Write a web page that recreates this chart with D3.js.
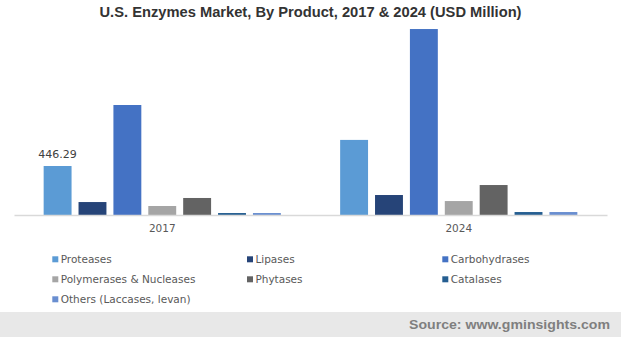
<!DOCTYPE html>
<html>
<head>
<meta charset="utf-8">
<script src="https://cdn.jsdelivr.net/npm/d3@7"></script>
<style>
  html, body { margin: 0; padding: 0; background: #fff; }
  svg { display: block; font-family: "Liberation Sans", Arial, sans-serif; }
</style>
</head>
<body>
<svg id="chart" width="621" height="337"></svg>
<script>
// Years on the category axis
const years = ["2017", "2024"];
// Product segments, in legend order
const products = [
  "Proteases", "Lipases", "Carbohydrases",
  "Polymerases & Nucleases", "Phytases", "Catalases",
  "Others (Laccases, levan)"
];
// Market size by product (USD Million)
const values2017 = [446.29, 118, 1002, 82, 155, 18, 18];
const values2024 = [684, 182, 1694, 127, 273, 27, 27];
// Series colours
const colors = ["#5B9BD5", "#264478", "#4472C4", "#A5A5A5", "#636363", "#255E91", "#698ED0"];
// Only the first bar carries a value label
const labelled = [{ year: "2017", product: "Proteases", value: values2017[0] }];

const svg = d3.select("#chart");
const W = 621, H = 337;
const uiFont = "'DejaVu Sans', Verdana, sans-serif";

const byYear = { "2017": values2017, "2024": values2024 };
const rows = years.flatMap(yr => products.map((p, i) => ({ year: yr, product: p, value: byYear[yr][i] })));

const x0 = d3.scaleBand().domain(years).range([14, 607]).paddingInner(0.2).paddingOuter(0.1);
const x1 = d3.scaleBand().domain(products).range([0, x0.bandwidth()]).paddingInner(0.2).paddingOuter(0);
const y = d3.scaleLinear().domain([0, 1800]).range([215, 17.4]);
const color = d3.scaleOrdinal().domain(products).range(colors);

// Title
svg.append("text")
  .attr("x", W / 2).attr("y", 17.3).attr("text-anchor", "middle")
  .attr("textLength", 422).attr("lengthAdjust", "spacingAndGlyphs")
  .style("font-size", "14px").style("font-weight", "bold").style("fill", "#333333")
  .text("U.S. Enzymes Market, By Product, 2017 & 2024 (USD Million)");

// Bars
svg.append("g").selectAll("rect").data(rows).join("rect")
  .attr("x", d => x0(d.year) + x1(d.product))
  .attr("y", d => y(d.value))
  .attr("width", x1.bandwidth())
  .attr("height", d => y(0) - y(d.value))
  .attr("fill", d => color(d.product));

// Category axis
const xAxis = svg.append("g").attr("transform", `translate(0,${y(0)})`)
  .call(d3.axisBottom(x0).tickSize(0).tickPadding(10).tickSizeOuter(0));
xAxis.select(".domain").attr("stroke", "#d9d9d9").attr("stroke-width", 1.5);
xAxis.selectAll("text")
  .style("font-size", "10.5px").style("fill", "#595959")
  .style("font-family", uiFont);

// Value label
svg.append("g").selectAll("text").data(labelled).join("text")
  .attr("x", d => x0(d.year) + x1(d.product) + x1.bandwidth() / 2)
  .attr("y", d => y(d.value) - 8)
  .attr("text-anchor", "middle")
  .style("font-size", "11px").style("fill", "#404040")
  .style("font-family", uiFont)
  .text(d => d3.format(".2f")(d.value));

// Legend
const legendCols = [52.3, 247, 442.3];
const legendRows = [259.3, 279.3, 299.3];
const legend = svg.append("g").selectAll("g").data(products).join("g")
  .attr("transform", (d, i) => `translate(${legendCols[i % 3]},${legendRows[Math.floor(i / 3)]})`);
legend.append("rect").attr("x", 0).attr("y", -3).attr("width", 6).attr("height", 6)
  .attr("fill", d => color(d));
legend.append("text").attr("x", 8.4).attr("y", 3.8)
  .style("font-size", "10.5px").style("fill", "#595959")
  .style("font-family", uiFont)
  .text(d => d);

// Source band
svg.append("rect").attr("x", 0).attr("y", 312).attr("width", W).attr("height", H - 312)
  .attr("fill", "#e8e8e8");
svg.append("text")
  .attr("x", 610).attr("y", 328.7).attr("text-anchor", "end")
  .attr("textLength", 201).attr("lengthAdjust", "spacingAndGlyphs")
  .style("font-size", "13.5px").style("font-weight", "bold").style("fill", "#7f7f7f")
  .text("Source: www.gminsights.com");
</script>
</body>
</html>
